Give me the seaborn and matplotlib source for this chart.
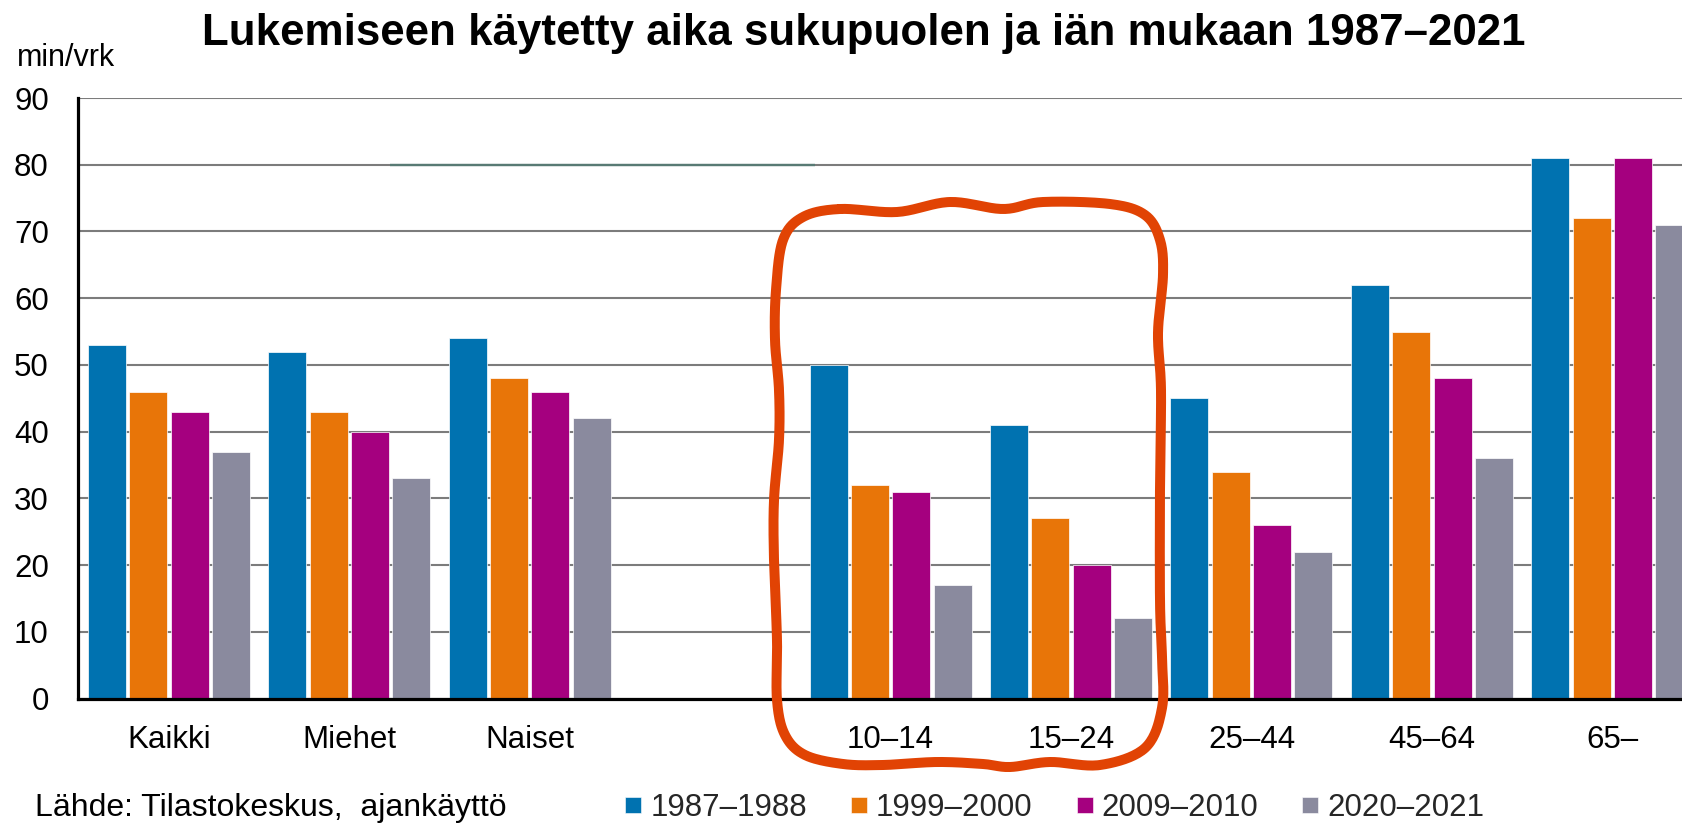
import numpy as np
import pandas as pd
import matplotlib
matplotlib.use("Agg")
import matplotlib.pyplot as plt
import seaborn as sns
from matplotlib.lines import Line2D

# ---------------- data ----------------
categories = ["Kaikki", "Miehet", "Naiset", "", "10–14", "15–24", "25–44", "45–64", "65–"]
groups = ["Kaikki", "Miehet", "Naiset", "10–14", "15–24", "25–44", "45–64", "65–"]
periods = ["1987–1988", "1999–2000", "2009–2010", "2020–2021"]
v_1987 = [53, 52, 54, 50, 41, 45, 62, 81]
v_1999 = [46, 43, 48, 32, 27, 34, 55, 72]
v_2009 = [43, 40, 46, 31, 20, 26, 48, 81]
v_2020 = [37, 33, 42, 17, 12, 22, 36, 71]
colors = ["#0072B0", "#E87508", "#A5007F", "#8A8A9E"]
yticks = [0, 10, 20, 30, 40, 50, 60, 70, 80, 90]
title = "Lukemiseen käytetty aika sukupuolen ja iän mukaan 1987–2021"
unit = "min/vrk"
source = "Lähde: Tilastokeskus,  ajankäyttö"
# stray dark line segment at y=80 in the original image (data units)
stray_y = 80
stray_x = [1.225, 3.58]

values = [v_1987, v_1999, v_2009, v_2020]
df = pd.DataFrame({
    "group": [g for p in periods for g in groups],
    "period": [p for p in periods for g in groups],
    "value": [v for vals in values for v in vals],
})

# ---------------- style ----------------
sns.set_theme(style="white")
plt.rcParams["font.family"] = ["Liberation Sans", "DejaVu Sans"]

W, H = 1683, 831
fig = plt.figure(figsize=(W / 100, H / 100), dpi=100)
fig.patch.set_facecolor("white")

ax_left, ax_bottom_px, ax_top_px = 78, 698.5, 98
ax = fig.add_axes([ax_left / W, 1 - ax_bottom_px / H, 1 - ax_left / W, (ax_bottom_px - ax_top_px) / H])

sns.barplot(data=df, x="group", y="value", hue="period", order=categories,
            hue_order=periods, palette=colors, saturation=1, width=0.916, gap=0.08,
            edgecolor="white", linewidth=0.5, legend=False, ax=ax, zorder=2)

ax.set_xlim(-0.504, 8.392)
ax.set_ylim(0, 90)
ax.set_yticks(yticks)
ax.set_xlabel("")
ax.set_ylabel("")
ax.yaxis.grid(True, color="#7c7c7c", linewidth=1.5)
ax.xaxis.grid(False)
ax.set_axisbelow(True)
for s in ["top", "right"]:
    ax.spines[s].set_visible(False)
for s in ["left", "bottom"]:
    ax.spines[s].set_color("black")
    ax.spines[s].set_linewidth(2.3)
    ax.spines[s].set_zorder(5)
ax.tick_params(axis="y", length=0, pad=21, labelsize=22.5, colors="black")
ax.tick_params(axis="x", length=0, pad=19.4, labelsize=22.5, colors="black")

ax.hlines(stray_y, stray_x[0], stray_x[1], color="#587A74", linewidth=1.7, zorder=1.5)

# ---------------- texts ----------------
fig.text(864 / W, 1 - 45 / H, title, ha="center", va="baseline",
         fontsize=31.6, fontweight="bold", color="black")
fig.text(17 / W, 1 - 66 / H, unit, ha="left", va="baseline", fontsize=22, color="black")
fig.text(35 / W, 1 - 808 / H, source, ha="left", va="center", fontsize=23, color="black")

handles = [Line2D([0], [0], marker="s", linestyle="", markersize=12.2,
                  markerfacecolor=c, markeredgecolor="white", markeredgewidth=0.4)
           for c in colors]
fig.legend(handles, periods, loc="center left", bbox_to_anchor=(625 / W, 1 - 808 / H),
           ncol=4, frameon=False, fontsize=22.5, handlelength=0.53, handletextpad=0.28,
           columnspacing=1.4, borderpad=0, borderaxespad=0)

# ---------------- hand-drawn red loop (annotation, figure pixels) ----------------
loop_px = [(840, 209), (897, 212), (950, 202), (1003, 209), (1043, 202), (1110, 204),
           (1145, 215), (1160, 240), (1163, 275), (1158, 333), (1161, 390), (1160, 486),
           (1160, 601), (1162, 658), (1162, 708), (1145, 748), (1100, 765), (1050, 762),
           (1010, 767), (983, 764), (937, 762), (883, 765), (843, 764), (805, 755),
           (785, 735), (777, 700), (777, 640), (774, 560), (774, 500), (779, 440),
           (779, 390), (775, 340), (776, 290), (783, 240), (803, 217)]

def catmull_rom_closed(pts, n=20):
    P = np.asarray(pts, dtype=float)
    m = len(P)
    out = []
    for i in range(m):
        p0, p1, p2, p3 = P[(i - 1) % m], P[i], P[(i + 1) % m], P[(i + 2) % m]
        t = np.linspace(0, 1, n, endpoint=False)[:, None]
        c = 0.5 * ((2 * p1) + (-p0 + p2) * t + (2 * p0 - 5 * p1 + 4 * p2 - p3) * t ** 2
                   + (-p0 + 3 * p1 - 3 * p2 + p3) * t ** 3)
        out.append(c)
    out = np.vstack(out)
    return np.vstack([out, out[:1]])

curve = catmull_rom_closed(loop_px)
fig.add_artist(Line2D(curve[:, 0] / W, 1 - curve[:, 1] / H, transform=fig.transFigure,
                      color="#E14304", linewidth=7.2, solid_capstyle="round",
                      solid_joinstyle="round", zorder=20))

fig.savefig("out.png", dpi=100, facecolor="white")
